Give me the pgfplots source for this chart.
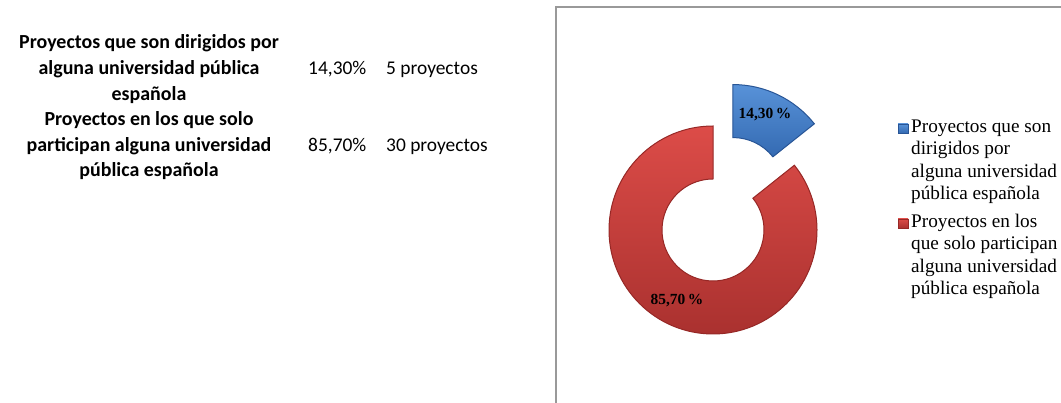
\documentclass[border=0pt]{standalone}
\usepackage{fontspec}
\setmainfont{Liberation Serif}
\newfontfamily\calibri{Carlito}
\usepackage{pgfplots}
\pgfplotsset{compat=1.18}
\definecolor{redtop}{RGB}{220,76,72}
\definecolor{redbot}{RGB}{170,49,47}
\definecolor{redrim}{RGB}{150,40,38}
\definecolor{bluetop}{RGB}{88,146,216}
\definecolor{bluebot}{RGB}{52,106,178}
\definecolor{bluerim}{RGB}{40,85,150}
\begin{document}
\begin{tikzpicture}
\useasboundingbox (0bp,0bp) rectangle (1061bp,403bp);
% left table (spreadsheet cells)
\begin{scope}[every node/.style={anchor=base, inner sep=0pt}]
\node[font=\calibri\bfseries\fontsize{20}{23}\selectfont] at (149bp,354bp) {Proyectos que son dirigidos por};
\node[font=\calibri\bfseries\fontsize{20}{23}\selectfont] at (149bp,328.4bp) {alguna universidad pública};
\node[font=\calibri\bfseries\fontsize{20}{23}\selectfont] at (149bp,302.8bp) {española};
\node[font=\calibri\bfseries\fontsize{20}{23}\selectfont] at (149bp,277.2bp) {Proyectos en los que solo};
\node[font=\calibri\bfseries\fontsize{20}{23}\selectfont] at (149bp,251.6bp) {participan alguna universidad};
\node[font=\calibri\bfseries\fontsize{20}{23}\selectfont] at (149bp,226bp) {pública española};
\node[font=\calibri\fontsize{19.5}{23}\selectfont, anchor=base west] at (308bp,328.4bp) {14,30\%};
\node[font=\calibri\fontsize{19.5}{23}\selectfont, anchor=base west] at (386bp,328.4bp) {5 proyectos};
\node[font=\calibri\fontsize{19.5}{23}\selectfont, anchor=base west] at (308bp,251.6bp) {85,70\%};
\node[font=\calibri\fontsize{19.5}{23}\selectfont, anchor=base west] at (386bp,251.6bp) {30 proyectos};
\end{scope}
% chart area border
\draw[draw=black!40, line width=1.2bp] (556bp,-10bp) -- (556bp,396bp) -- (1075bp,396bp);
% legend
\path[top color=bluetop,bottom color=bluebot,draw=bluerim,line width=0.4bp] (898bp,270bp) rectangle (908bp,279bp);
\path[top color=redtop,bottom color=redbot,draw=redrim,line width=0.4bp] (898bp,175bp) rectangle (908bp,184bp);
\begin{scope}[every node/.style={anchor=base west, inner sep=0pt, font=\rmfamily\fontsize{19.3}{22.3}\selectfont}]
\node at (911bp,270.5bp) {Proyectos que son};
\node at (911bp,248.2bp) {dirigidos por};
\node at (911bp,225.9bp) {alguna universidad};
\node at (911bp,203.6bp) {pública española};
\node at (911bp,175.5bp) {Proyectos en los};
\node at (911bp,153.2bp) {que solo participan};
\node at (911bp,130.9bp) {alguna universidad};
\node at (911bp,108.6bp) {pública española};
\end{scope}
\def\pA{14.3}
\def\pB{85.7}
\pgfmathsetmacro\aEnd{90-3.6*\pA}
\pgfmathsetmacro\aRed{90+3.6*\pB}
\pgfmathsetmacro\aBis{90-1.8*\pA}
\begin{axis}[
  at={(713bp,173bp)}, anchor=center,
  scale only axis, width=312bp, height=312bp,
  xmin=-1.5, xmax=1.5, ymin=-1.5, ymax=1.5,
  axis lines=none, clip=false,
]
\coordinate (c) at (axis cs:0,0);
\coordinate (cb) at ([shift={(\aBis:46bp)}]c);
% red slice
\path[top color=redtop, bottom color=redbot, draw=redrim, line width=1bp]
  ([shift={(90:104bp)}]c) arc[start angle=90, end angle=\aRed, radius=104bp]
  -- ([shift={(\aRed:51bp)}]c) arc[start angle=\aRed, end angle=90, radius=51bp] -- cycle;
% blue slice (exploded)
\path[top color=bluetop, bottom color=bluebot, draw=bluerim, line width=1bp]
  ([shift={(\aEnd:104bp)}]cb) arc[start angle=\aEnd, end angle=90, radius=104bp]
  -- ([shift={(90:51bp)}]cb) arc[start angle=90, end angle=\aEnd, radius=51bp] -- cycle;
\node[font=\bfseries\fontsize{15.5}{18}\selectfont] at (axis cs:0.50,1.106) {14,30\,\%};
\node[font=\bfseries\fontsize{15.5}{18}\selectfont] at (axis cs:-0.346,-0.683) {85,70\,\%};
\end{axis}
\end{tikzpicture}
\end{document}
